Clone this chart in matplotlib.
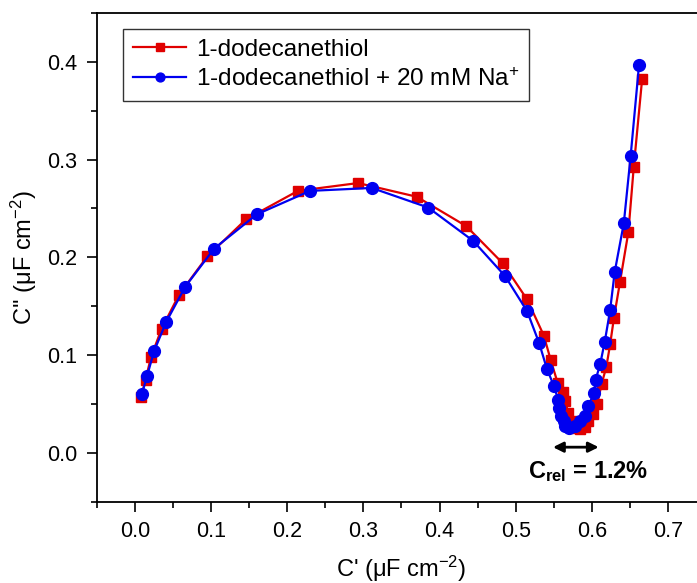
import numpy as np
import matplotlib
matplotlib.use('Agg')
import matplotlib.pyplot as plt
from matplotlib.ticker import MultipleLocator

plt.rcParams['font.family'] = ['Liberation Sans', 'DejaVu Sans']
plt.rcParams['mathtext.fontset'] = 'custom'
plt.rcParams['mathtext.rm'] = 'Liberation Sans'
plt.rcParams['mathtext.it'] = 'Liberation Sans:italic'
plt.rcParams['mathtext.bf'] = 'Liberation Sans:bold'

# 1-dodecanethiol
x_thiol = [0.008, 0.014, 0.021, 0.035, 0.058, 0.095, 0.146, 0.214, 0.293, 0.370,
           0.435, 0.483, 0.515, 0.537, 0.546, 0.555, 0.562, 0.565, 0.569, 0.574,
           0.578, 0.584, 0.591, 0.595, 0.602, 0.607, 0.613, 0.619, 0.624, 0.629,
           0.637, 0.648, 0.655, 0.666]
y_thiol = [0.057, 0.075, 0.098, 0.127, 0.162, 0.201, 0.239, 0.268, 0.276, 0.262,
           0.232, 0.194, 0.157, 0.120, 0.095, 0.072, 0.062, 0.053, 0.041, 0.033,
           0.026, 0.025, 0.027, 0.033, 0.040, 0.050, 0.071, 0.088, 0.111, 0.138,
           0.175, 0.226, 0.292, 0.382]

# 1-dodecanethiol + 20 mM Na+
x_na = [0.009, 0.016, 0.025, 0.041, 0.066, 0.104, 0.160, 0.230, 0.311, 0.385,
        0.444, 0.486, 0.515, 0.531, 0.541, 0.550, 0.556, 0.557, 0.560, 0.563,
        0.565, 0.570, 0.578, 0.584, 0.591, 0.595, 0.603, 0.605, 0.611, 0.617,
        0.624, 0.630, 0.642, 0.651, 0.662]
y_na = [0.060, 0.079, 0.104, 0.134, 0.170, 0.209, 0.244, 0.268, 0.271, 0.251,
        0.217, 0.181, 0.145, 0.112, 0.086, 0.069, 0.054, 0.046, 0.038, 0.033,
        0.028, 0.026, 0.028, 0.033, 0.038, 0.048, 0.061, 0.075, 0.091, 0.114,
        0.146, 0.185, 0.235, 0.304, 0.397]

xticks = [0.0, 0.1, 0.2, 0.3, 0.4, 0.5, 0.6, 0.7]
yticks = [0.0, 0.1, 0.2, 0.3, 0.4]

fig = plt.figure(figsize=(6.97, 5.83), dpi=100)
ax = fig.add_axes([0.139, 0.139, 0.874, 0.839])

ax.plot(x_thiol, y_thiol, '-s', color='#e00000', lw=1.6, ms=7,
        label='1-dodecanethiol')
ax.plot(x_na, y_na, '-o', color='#0000f0', lw=1.6, ms=8.5,
        label='1-dodecanethiol + 20 mM Na$^{+}$')

ax.set_xlim(-0.05, 0.75)
ax.set_ylim(-0.05, 0.45)
ax.xaxis.set_minor_locator(MultipleLocator(0.05))
ax.yaxis.set_minor_locator(MultipleLocator(0.05))
ax.set_xticks(xticks)
ax.set_xticklabels([f'{v:.1f}' for v in xticks])
ax.set_yticks(yticks)
ax.set_yticklabels([f'{v:.1f}' for v in yticks])
ax.tick_params(which='both', direction='out', top=False, right=False,
               labelsize=15.5, width=1.2)
ax.tick_params(which='major', length=7, pad=7)
ax.tick_params(which='minor', length=4)
for s in ax.spines.values():
    s.set_linewidth(1.3)

ax.set_xlabel("C' (μF cm$^{-2}$)", fontsize=17, labelpad=8)
ax.set_ylabel("C'' (μF cm$^{-2}$)", fontsize=17, labelpad=6)

leg = ax.legend(loc='upper left', bbox_to_anchor=(0.043, 0.967), fontsize=17.5,
                frameon=True, fancybox=False, edgecolor='black',
                handlelength=2.2, borderpad=0.4, labelspacing=0.3,
                handletextpad=0.4, markerscale=0.75, borderaxespad=0)
leg.get_frame().set_linewidth(1.0)

ax.annotate('', xy=(0.549, 0.006), xytext=(0.609, 0.006),
            arrowprops=dict(arrowstyle='<|-|>', color='black', lw=2,
                            mutation_scale=15, shrinkA=0, shrinkB=0))
ax.text(0.595, -0.019, r'$\mathbf{C_{rel}}$' + ' = 1.2%', fontsize=17,
        fontweight='bold', ha='center', va='center')

fig.savefig('out.png', dpi=100)
